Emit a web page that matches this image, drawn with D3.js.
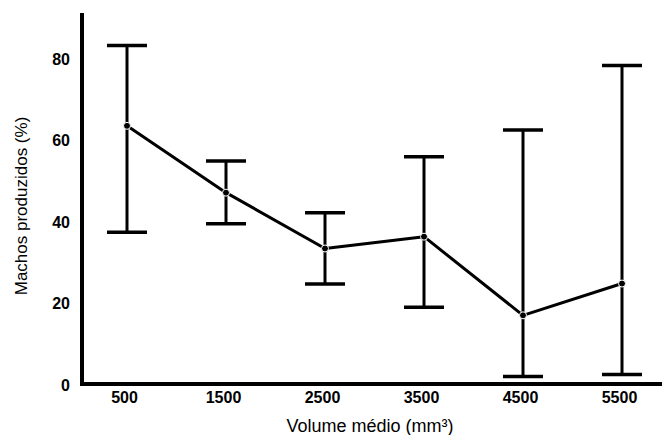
<!DOCTYPE html>
<html>
<head>
<meta charset="utf-8">
<script src="https://cdn.jsdelivr.net/npm/d3@7"></script>
<style>
  html, body { margin: 0; padding: 0; background: #fff; }
  svg { display: block; }
</style>
</head>
<body>
<svg id="chart" width="666" height="435"></svg>
<script>
// ─── Data ──────────────────────────────────────────────
const volumes = ["500", "1500", "2500", "3500", "4500", "5500"];
const means = [63.6, 47.2, 33.5, 36.4, 17.1, 24.9];
const upper = [83.3, 55.0, 42.3, 56.0, 62.6, 78.4];
const lower = [37.5, 39.6, 24.8, 19.1, 2.1, 2.6];
const yTicks = [0, 20, 40, 60, 80];

const rows = volumes.map((v, i) => ({ v, m: means[i], hi: upper[i], lo: lower[i] }));

const width = 666, height = 435;
const svg = d3.select("#chart").attr("viewBox", `0 0 ${width} ${height}`);
const font = "'Liberation Sans', Arial, Helvetica, sans-serif";

// ─── Scales ────────────────────────────────────────────
const x = d3.scalePoint().domain(volumes).range([127, 622]);
const y = d3.scaleLinear().domain([0, 80]).range([385, 59]);

const axisX0 = 82, axisX1 = 662, axisYTop = 13, axisYBottom = 384;

// ─── Axes ──────────────────────────────────────────────
const yAxis = svg.append("g")
  .attr("transform", `translate(${axisX0},0)`)
  .call(d3.axisLeft(y).tickValues(yTicks).tickSize(0).tickPadding(12));
yAxis.select(".domain").remove();
yAxis.selectAll(".tick text")
  .attr("font-family", font)
  .attr("font-size", 16)
  .attr("font-weight", "bold")
  .attr("fill", "#000");

const xAxis = svg.append("g")
  .attr("transform", `translate(0,${axisYBottom})`)
  .call(d3.axisBottom(x).tickSize(0).tickPadding(8));
xAxis.select(".domain").remove();
xAxis.selectAll(".tick text")
  .attr("font-family", font)
  .attr("font-size", 16)
  .attr("font-weight", "bold")
  .attr("dx", -3)
  .attr("fill", "#000");

svg.append("line")
  .attr("x1", axisX0).attr("x2", axisX0)
  .attr("y1", axisYTop).attr("y2", axisYBottom + 2)
  .attr("stroke", "#000").attr("stroke-width", 4);
svg.append("line")
  .attr("x1", axisX0 - 2).attr("x2", axisX1)
  .attr("y1", axisYBottom).attr("y2", axisYBottom)
  .attr("stroke", "#000").attr("stroke-width", 4);

// ─── Error bars ────────────────────────────────────────
const capHalf = 20;
const eb = svg.append("g");
eb.selectAll("line.stem")
  .data(rows).join("line").attr("class", "stem")
  .attr("x1", d => x(d.v)).attr("x2", d => x(d.v))
  .attr("y1", d => y(d.hi)).attr("y2", d => y(d.lo))
  .attr("stroke", "#000").attr("stroke-width", 3);
eb.selectAll("line.cap-hi")
  .data(rows).join("line").attr("class", "cap-hi")
  .attr("x1", d => x(d.v) - capHalf).attr("x2", d => x(d.v) + capHalf)
  .attr("y1", d => y(d.hi)).attr("y2", d => y(d.hi))
  .attr("stroke", "#000").attr("stroke-width", 3.5);
eb.selectAll("line.cap-lo")
  .data(rows).join("line").attr("class", "cap-lo")
  .attr("x1", d => x(d.v) - capHalf).attr("x2", d => x(d.v) + capHalf)
  .attr("y1", d => y(d.lo)).attr("y2", d => y(d.lo))
  .attr("stroke", "#000").attr("stroke-width", 3.5);

// ─── Mean line ─────────────────────────────────────────
const line = d3.line().x(d => x(d.v)).y(d => y(d.m));
svg.append("path")
  .datum(rows)
  .attr("fill", "none")
  .attr("stroke", "#000")
  .attr("stroke-width", 3)
  .attr("stroke-linejoin", "round")
  .attr("d", line);

svg.append("g").selectAll("circle")
  .data(rows).join("circle")
  .attr("cx", d => x(d.v)).attr("cy", d => y(d.m))
  .attr("r", 3.5)
  .attr("fill", "#000")
  .attr("stroke", "#fff")
  .attr("stroke-width", 1);

// ─── Titles ────────────────────────────────────────────
svg.append("text")
  .attr("x", 370).attr("y", 432)
  .attr("text-anchor", "middle")
  .attr("font-family", font)
  .attr("font-size", 18)
  .attr("fill", "#000")
  .text("Volume médio (mm³)");

svg.append("text")
  .attr("transform", "translate(27,206) rotate(-90)")
  .attr("text-anchor", "middle")
  .attr("font-family", font)
  .attr("font-size", 17)
  .attr("fill", "#000")
  .text("Machos produzidos (%)");
</script>
</body>
</html>
